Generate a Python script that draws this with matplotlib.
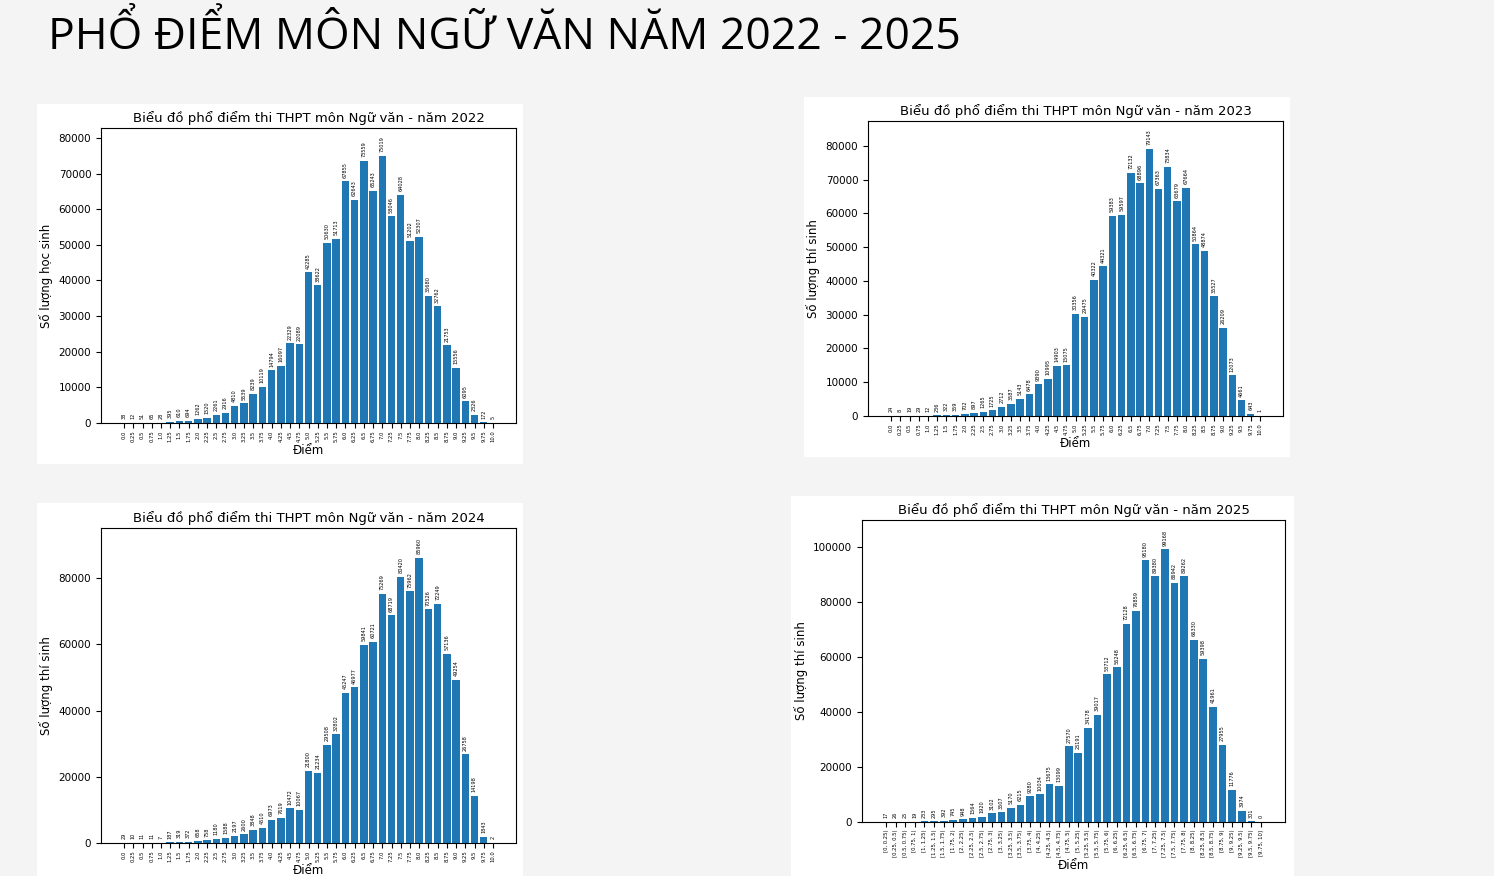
import matplotlib.pyplot as plt
from matplotlib.patches import Rectangle

W, H = 1494, 876

scores = [i * 0.25 for i in range(41)]
labels_num = [str(s) for s in scores]

def fmt(v):
    return str(int(v)) if v == int(v) else str(v)

labels_2025 = ["[%s, %s)" % (fmt(scores[i]), fmt(scores[i + 1])) for i in range(39)] + ["[9.75, 10]"]

v2022 = [38, 12, 51, 65, 28, 395, 610, 694, 1262, 1520, 2261, 2916, 4810, 5539, 8239, 10119,
         14794, 16097, 22329, 22089, 42285, 38622, 50630, 51713, 67855, 62643, 73559, 65243,
         75019, 58046, 64028, 51202, 52307, 35680, 32762, 21753, 15556, 6095, 2326, 172, 5]
v2023 = [24, 8, 19, 29, 12, 236, 322, 359, 702, 897, 1265, 1725, 2712, 3587, 5143, 6478,
         9390, 10995, 14903, 15075, 30356, 29475, 40322, 44321, 59383, 59597, 72132, 68896,
         79143, 67363, 73834, 63679, 67664, 50864, 48874, 35527, 26209, 12073, 4661, 643, 1]
v2024 = [29, 10, 11, 11, 7, 187, 319, 372, 658, 758, 1180, 1588, 2197, 2600, 3848, 4510,
         6973, 7619, 10472, 10067, 21800, 21234, 29508, 32802, 45247, 46977, 59841, 60721,
         75269, 68719, 80420, 75962, 85960, 70526, 72249, 57136, 49254, 26758, 14198, 1843, 2]
v2025 = [17, 26, 25, 19, 233, 295, 392, 745, 948, 1564, 1920, 3102, 3507, 5170, 6215, 9280,
         10034, 13675, 13099, 27570, 25191, 34178, 39017, 53712, 56248, 72128, 76859, 95180,
         89380, 99168, 86942, 89262, 66330, 59398, 41961, 27955, 11776, 3974, 301, 0]

fig = plt.figure(figsize=(W / 100, H / 100), dpi=100)
fig.patch.set_facecolor('#f4f4f4')
fig.text(48 / W, 1 - 37 / H, 'PHỔ ĐIỂM MÔN NGỮ VĂN NĂM 2022 - 2025', fontsize=32,
         family='Open Sans', va='center', ha='left', color='black')

def px_rect(x0, y0, x1, y1):
    return [x0 / W, 1 - y1 / H, (x1 - x0) / W, (y1 - y0) / H]

def panel(p, a, labels, vals, title, ylabel, yticks, ytop):
    fig.patches.append(Rectangle((p[0], p[1]), p[2], p[3], transform=fig.transFigure,
                                 facecolor='white', edgecolor='none', zorder=-10))
    ax = fig.add_axes(a, zorder=5)
    x = list(range(len(vals)))
    bars = ax.bar(x, vals, color='#1f77b4')
    for b, v in zip(bars, vals):
        ax.text(b.get_x() + b.get_width() / 2, v + ytop * 0.012, str(v), rotation=90,
                ha='center', va='bottom', fontsize=3.6)
    ax.set_xticks(x)
    ax.set_xticklabels(labels, rotation=90, fontsize=3.8)
    ax.set_yticks(yticks)
    ax.set_ylim(0, ytop)
    ax.tick_params(axis='y', labelsize=7.5)
    ax.tick_params(axis='x', pad=2)
    ax.set_title(title, fontsize=9.5, pad=4)
    ax.set_xlabel('Điểm', fontsize=8.5, labelpad=1)
    ax.set_ylabel(ylabel, fontsize=8.5)
    ax.set_xlim(-2.5, len(vals) + 1.5)
    return ax

panel(px_rect(37, 104, 523, 464), px_rect(101, 128, 516, 423), labels_num, v2022,
      'Biểu đồ phổ điểm thi THPT môn Ngữ văn - năm 2022', 'Số lượng học sinh',
      range(0, 80001, 10000), 82800)
panel(px_rect(804, 97, 1290, 457), px_rect(868, 121, 1283, 416), labels_num, v2023,
      'Biểu đồ phổ điểm thi THPT môn Ngữ văn - năm 2023', 'Số lượng thí sinh',
      range(0, 80001, 10000), 87400)
panel(px_rect(37, 503, 523, 890), px_rect(101, 528, 516, 843), labels_num, v2024,
      'Biểu đồ phổ điểm thi THPT môn Ngữ văn - năm 2024', 'Số lượng thí sinh',
      range(0, 80001, 20000), 95100)
panel(px_rect(791, 496, 1294, 890), px_rect(862, 520, 1285, 822), labels_2025, v2025,
      'Biểu đồ phổ điểm thi THPT môn Ngữ văn - năm 2025', 'Số lượng thí sinh',
      range(0, 100001, 20000), 109800)

fig.savefig('out.png', dpi=100, facecolor=fig.get_facecolor())
